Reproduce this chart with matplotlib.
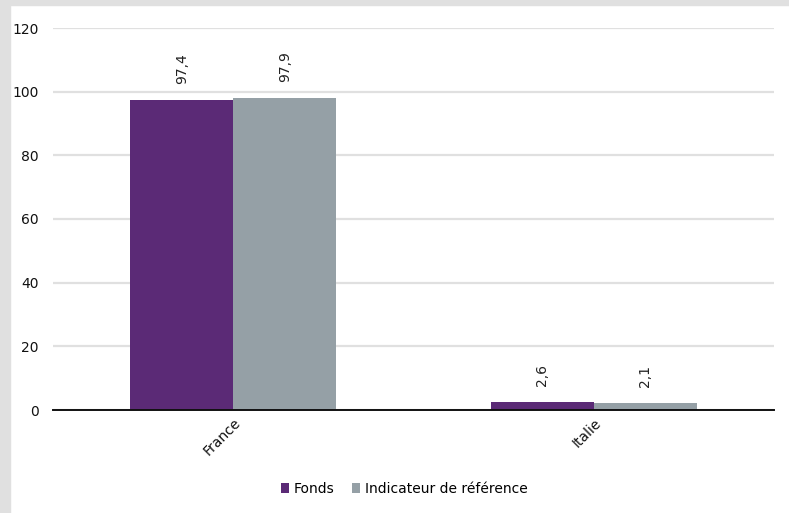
import numpy as np
import matplotlib.pyplot as plt
from matplotlib.patches import Rectangle

# Répartition par pays (%)
pays = ['France', 'Italie']
fonds = [97.4, 2.6]
indicateur = [97.9, 2.1]
series = ['Fonds', 'Indicateur de référence']
couleurs = ['#5b2a76', '#95a0a6']

plt.rcParams['font.family'] = ['DejaVu Sans']

fig = plt.figure(figsize=(7.89, 5.13), dpi=100)
# bandeau gris à gauche et en haut
fig.patches.append(Rectangle((0, 0), 10 / 789, 1, transform=fig.transFigure,
                             color='#e0e0e0', zorder=0))
fig.patches.append(Rectangle((0, 1 - 5 / 513), 1, 5 / 513, transform=fig.transFigure,
                             color='#e0e0e0', zorder=0))

ax = fig.add_axes([53 / 789, 1 - 410 / 513, 721 / 789, 382 / 513])

x = np.arange(len(pays))
largeur = 0.286
b1 = ax.bar(x - largeur / 2, fonds, largeur, color=couleurs[0], label=series[0], zorder=3)
b2 = ax.bar(x + largeur / 2, indicateur, largeur, color=couleurs[1], label=series[1], zorder=3)

for barres, vals in ((b1, fonds), (b2, indicateur)):
    for b, v in zip(barres, vals):
        ax.annotate(f'{v:.1f}'.replace('.', ','),
                    (b.get_x() + b.get_width() / 2, b.get_height()),
                    xytext=(0, 16), textcoords='offset pixels',
                    rotation=90, ha='center', va='bottom', fontsize=10, color='#222222')

ax.set_xlim(-0.5, 1.5)
ax.set_ylim(0, 120)
ax.set_yticks(range(0, 121, 20))
ax.yaxis.grid(True, color='#e0e0e0', linewidth=1.6, zorder=0)
ax.set_axisbelow(True)
for s in ['top', 'right', 'left']:
    ax.spines[s].set_visible(False)
ax.spines['bottom'].set_linewidth(1.4)
ax.spines['bottom'].set_color('#111111')
ax.spines['bottom'].set_zorder(4)
ax.tick_params(axis='y', length=0, pad=10.5, labelsize=10, labelcolor='#111111')
ax.tick_params(axis='x', length=0, pad=4, labelsize=10, labelcolor='#111111')
ax.set_xticks(x)
ax.set_xticklabels(pays, rotation=45, ha='right', rotation_mode='anchor')

fig.legend(handles=[b1, b2], labels=series, loc='center', bbox_to_anchor=(404 / 789, 1 - 489 / 513),
           ncol=2, frameon=False, fontsize=10, handlelength=0.6, handleheight=0.7,
           handletextpad=0.3, columnspacing=1.3)

fig.savefig('out.png', dpi=100, facecolor='white')
